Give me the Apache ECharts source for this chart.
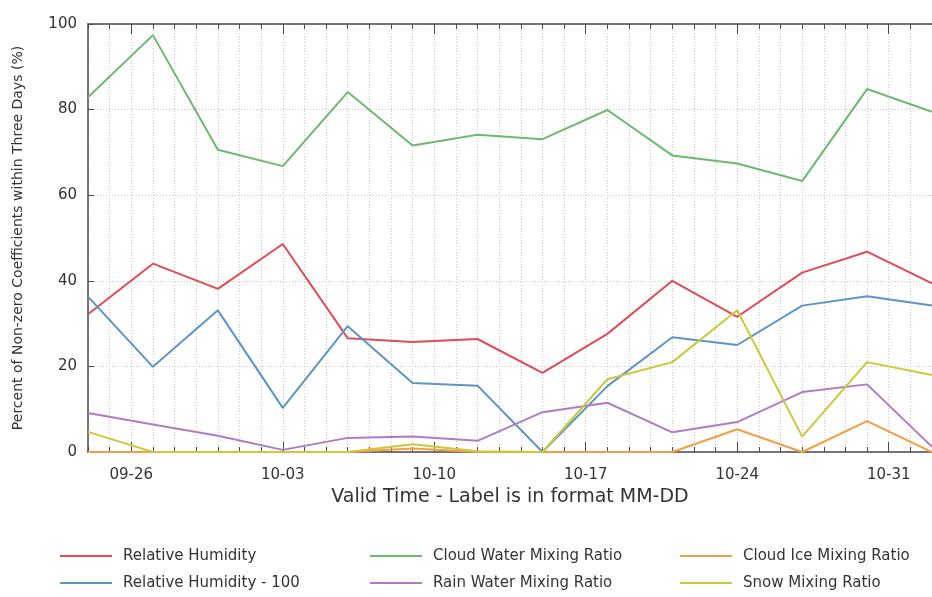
<!DOCTYPE html>
<html>
<head>
<meta charset="utf-8">
<title>Non-zero Coefficients</title>
<script src="https://cdn.jsdelivr.net/npm/echarts@6/dist/echarts.min.js"></script>
<style>
  html, body { margin: 0; padding: 0; background: #fff; overflow: hidden; }
  #chart { width: 932px; height: 597px; }
</style>
</head>
<body>
<div id="chart"></div>
<script>
// Valid times (MM-DD), one sample every three days
const dates = ['09-24','09-27','09-30','10-03','10-06','10-09','10-12','10-15','10-18','10-21','10-24','10-27','10-30','11-02'];
// Dates that carry a tick label
const tickLabels = ['09-26','10-03','10-10','10-17','10-24','10-31'];

// Percent of non-zero coefficients within three days (%)
const relHum      = [32.2, 44.0, 38.1, 48.6, 26.6, 25.7, 26.4, 18.5, 27.6, 40.0, 31.6, 41.9, 46.8, 39.4];
const relHum100   = [36.3, 19.9, 33.1, 10.3, 29.4, 16.1, 15.5, 0.0, 15.4, 26.8, 25.0, 34.2, 36.4, 34.2];
const cloudWater  = [82.9, 97.4, 70.6, 66.8, 84.1, 71.6, 74.1, 73.1, 79.9, 69.3, 67.4, 63.3, 84.8, 79.5];
const cloudIce    = [0.0, 0.0, 0.0, 0.0, 0.0, 0.8, 0.0, 0.0, 0.0, 0.0, 5.3, 0.0, 7.2, 0.0];
const rainWater   = [9.1, 6.4, 3.8, 0.5, 3.3, 3.6, 2.6, 9.3, 11.5, 4.6, 7.0, 14.0, 15.8, 1.2];
const snow        = [4.7, 0.0, 0.0, 0.0, 0.0, 1.8, 0.2, 0.0, 17.0, 21.0, 33.1, 3.6, 21.0, 18.0];

const seriesNames = ['Relative Humidity', 'Relative Humidity - 100', 'Cloud Water Mixing Ratio',
                     'Rain Water Mixing Ratio', 'Cloud Ice Mixing Ratio', 'Snow Mixing Ratio'];
const seriesValues = [relHum, relHum100, cloudWater, rainWater, cloudIce, snow];
const seriesColors = ['#e04b55', '#5b95c8', '#6cba6c', '#b07ac8', '#f29e45', '#cfc63a'];

// Day number of an MM-DD string, counted from the first valid time
function dayOf(mmdd) {
  const [m, d] = mmdd.split('-').map(Number);
  const [m0, d0] = dates[0].split('-').map(Number);
  return Math.round((Date.UTC(2001, m - 1, d) - Date.UTC(2001, m0 - 1, d0)) / 86400000);
}
const dayToLabel = {};
tickLabels.forEach(t => { dayToLabel[dayOf(t)] = t; });
const tickDays = tickLabels.map(dayOf);
const xMax = dayOf(dates[dates.length - 1]);

const FONT = 'DejaVu Sans';
const AXIS_COLOR = '#4a4a4a';
const GRID_LINE = { type: [1, 2], color: '#c9c9c9', width: 1 };

const xCommon = { type: 'value', min: 0, max: xMax, gridIndex: 0 };

const option = {
  animation: false,
  backgroundColor: '#fff',
  textStyle: { fontFamily: FONT },
  grid: { left: 88, top: 24, bottom: 145, right: -11, containLabel: false },
  legend: [
    { data: [seriesNames[0], seriesNames[1]], left: 60 },
    { data: [seriesNames[2], seriesNames[3]], left: 370 },
    { data: [seriesNames[4], seriesNames[5]], left: 680 }
  ].map(l => Object.assign({
    top: 547, orient: 'vertical', icon: 'rect', itemWidth: 52, itemHeight: 2, itemGap: 9,
    padding: 0,
    textStyle: { fontFamily: FONT, fontSize: 15, color: '#333', lineHeight: 18, padding: [0, 0, 0, 6] }
  }, l)),
  xAxis: [
    Object.assign({}, xCommon, {
      position: 'bottom', interval: 1,
      name: 'Valid Time - Label is in format MM-DD',
      nameLocation: 'middle', nameGap: 30,
      nameTextStyle: { fontFamily: FONT, fontSize: 19, color: '#333' },
      axisLine: { show: true, onZero: false, lineStyle: { color: AXIS_COLOR, width: 1.5 } },
      axisTick: { show: true, inside: true, length: 5, lineStyle: { color: AXIS_COLOR } },
      axisLabel: {
        customValues: tickDays, fontFamily: FONT, fontSize: 15, color: '#333', margin: 16,
        formatter: v => dayToLabel[v] || ''
      },
      splitLine: { show: true, lineStyle: GRID_LINE }
    }),
    Object.assign({}, xCommon, {
      position: 'bottom',
      axisLine: { show: false, onZero: false },
      axisTick: { show: true, inside: true, length: 10, customValues: tickDays, lineStyle: { color: AXIS_COLOR } },
      axisLabel: { show: false },
      splitLine: { show: false }
    }),
    Object.assign({}, xCommon, {
      position: 'top', interval: 1,
      axisLine: { show: true, onZero: false, lineStyle: { color: AXIS_COLOR, width: 1.5 } },
      axisTick: { show: true, inside: true, length: 5, lineStyle: { color: AXIS_COLOR } },
      axisLabel: { show: false },
      splitLine: { show: false }
    }),
    Object.assign({}, xCommon, {
      position: 'top',
      axisLine: { show: false, onZero: false },
      axisTick: { show: true, inside: true, length: 10, customValues: tickDays, lineStyle: { color: AXIS_COLOR } },
      axisLabel: { show: false },
      splitLine: { show: false }
    })
  ],
  yAxis: {
    type: 'value', min: 0, max: 100, interval: 20, position: 'left',
    name: 'Percent of Non-zero Coefficients within Three Days (%)',
    nameLocation: 'middle', nameGap: 63, nameRotate: 90,
    nameTextStyle: { fontFamily: FONT, fontSize: 14, color: '#333' },
    axisLine: { show: true, lineStyle: { color: AXIS_COLOR, width: 1.5 } },
    axisTick: { show: true, inside: true, length: 6, lineStyle: { color: AXIS_COLOR } },
    axisLabel: { fontFamily: FONT, fontSize: 15, color: '#333', margin: 11 },
    splitLine: { show: true, lineStyle: GRID_LINE }
  },
  series: seriesNames.map((name, i) => ({
    name,
    type: 'line',
    xAxisIndex: 0,
    yAxisIndex: 0,
    data: dates.map((d, k) => [dayOf(d), seriesValues[i][k]]),
    symbol: 'none',
    showSymbol: false,
    smooth: false,
    clip: true,
    color: seriesColors[i],
    lineStyle: { color: seriesColors[i], width: 2 },
    itemStyle: { color: seriesColors[i] },
    z: 3
  }))
};

const chart = echarts.init(document.getElementById('chart'), null, { renderer: 'canvas' });
chart.setOption(option);
</script>
</body>
</html>
